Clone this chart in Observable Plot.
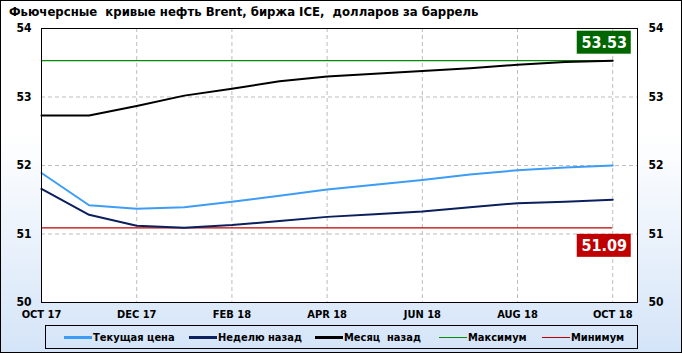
<!DOCTYPE html>
<html>
<head>
<meta charset="utf-8">
<script src="https://cdn.jsdelivr.net/npm/d3@7"></script>
<script src="https://cdn.jsdelivr.net/npm/@observablehq/plot@0.6"></script>
<style>
  html, body { margin: 0; padding: 0; }
  #wrap {
    position: relative; width: 682px; height: 353px; overflow: hidden;
    background: linear-gradient(to bottom, #ffffff 0%, #ffffff 38%, #d4e4f8 100%);
    box-shadow: inset 0 0 0 1px #000;
    font-family: "DejaVu Sans Condensed", "DejaVu Sans", sans-serif;
    font-stretch: condensed;
  }
  #title {
    position: absolute; left: 9px; top: 4px; white-space: pre;
    font-size: 13px; font-weight: bold; color: #000;
  }
  #chart { position: absolute; left: 0; top: 0; }
  #legend {
    position: absolute; left: 45px; top: 325px; width: 591px; height: 22px;
    border: 1px solid #000; box-sizing: content-box;
  }
  .item { position: absolute; top: 0; height: 22px; display: flex; align-items: center; white-space: pre;
    font-size: 11px; font-weight: bold; }
  .sw { display: inline-block; width: 28px; height: 0; margin-right: 1px; }
</style>
</head>
<body>
<div id="wrap">
  <div id="title">Фьючерсные  кривые нефть Brent, биржа ICE,  долларов за баррель</div>
  <div id="chart"></div>
  <div id="legend"></div>
</div>
<script>
const months = ["OCT 17","NOV 17","DEC 17","JAN 18","FEB 18","MAR 18","APR 18","MAY 18","JUN 18","JUL 18","AUG 18","SEP 18","OCT 18"];
const tickLabels = ["OCT 17","DEC 17","FEB 18","APR 18","JUN 18","AUG 18","OCT 18"];
const yTicks = [50, 51, 52, 53, 54];
const current  = [51.89, 51.42, 51.37, 51.39, 51.47, 51.56, 51.65, 51.72, 51.79, 51.87, 51.93, 51.97, 52.00];
const weekAgo  = [51.66, 51.28, 51.12, 51.09, 51.13, 51.19, 51.25, 51.29, 51.33, 51.39, 51.45, 51.47, 51.50];
const monthAgo = [52.73, 52.73, 52.87, 53.02, 53.12, 53.23, 53.30, 53.34, 53.38, 53.42, 53.47, 53.51, 53.53];
const maxVal = [53.53];
const minVal = [51.09];
const seriesNames = ["Текущая цена", "Неделю назад", "Месяц  назад", "Максимум", "Минимум"];
const seriesColors = ["#3d9cf5", "#0a1f5c", "#000000", "#0a8a0a", "#c00000"];

const n = months.length;
const idx = d3.range(n);
const tickIdx = tickLabels.map(l => months.indexOf(l));
const last = n - 1;

const gridStyle = {stroke: "#bdbdbd", strokeOpacity: 1, strokeDasharray: "4,3"};
const axisFont = {fontSize: 12, fontWeight: "bold", tickFormat: d => String(d)};

const chart = Plot.plot({
  width: 682, height: 330,
  marginLeft: 41, marginRight: 45, marginTop: 28, marginBottom: 28,
  x: {domain: [0, 12.52], axis: null},
  y: {domain: [50, 54], axis: null},
  style: {background: "transparent", fontFamily: "'DejaVu Sans', sans-serif", color: "#000", overflow: "visible"},
  marks: [
    Plot.frame({fill: "white"}),
    Plot.gridY(yTicks.slice(1, -1), gridStyle),
    Plot.gridX(tickIdx.slice(1), gridStyle),
    Plot.ruleY(maxVal, {x1: () => 0, x2: () => last, stroke: seriesColors[3], strokeWidth: 1.2}),
    Plot.ruleY(minVal, {x1: () => 0, x2: () => last, stroke: seriesColors[4], strokeWidth: 1.2}),
    Plot.line(idx, {x: i => i, y: i => monthAgo[i], stroke: seriesColors[2], strokeWidth: 2}),
    Plot.line(idx, {x: i => i, y: i => weekAgo[i], stroke: seriesColors[1], strokeWidth: 2}),
    Plot.line(idx, {x: i => i, y: i => current[i], stroke: seriesColors[0], strokeWidth: 2}),
    Plot.frame({stroke: "#000", strokeWidth: 1}),
    Plot.axisY(yTicks, {anchor: "left", tickSize: 0, tickPadding: 10, ...axisFont}),
    Plot.axisY(yTicks, {anchor: "right", tickSize: 0, tickPadding: 11, ...axisFont}),
    Plot.axisX(tickIdx, {anchor: "bottom", tickSize: 0, tickPadding: 8, tickFormat: i => months[i],
      fontSize: 11, fontWeight: "bold", fontStretch: "condensed", fontFamily: "'DejaVu Sans Condensed', 'DejaVu Sans', sans-serif"}),
    Plot.rect(maxVal, {x1: () => last, x2: () => last, y1: d => d, y2: d => d, fill: "#006600",
      insetLeft: -27, insetRight: -27, insetTop: -11.5, insetBottom: -11.5, dx: -8.5, dy: -18}),
    Plot.text(maxVal, {x: () => last, y: d => d, text: d => d.toFixed(2), fill: "white", dx: -8.5, dy: -18,
      fontSize: 16, fontWeight: "bold"}),
    Plot.rect(minVal, {x1: () => last, x2: () => last, y1: d => d, y2: d => d, fill: "#c00000",
      insetLeft: -27, insetRight: -27, insetTop: -11.5, insetBottom: -11.5, dx: -8.5, dy: 18}),
    Plot.text(minVal, {x: () => last, y: d => d, text: d => d.toFixed(2), fill: "white", dx: -8.5, dy: 18,
      fontSize: 16, fontWeight: "bold"})
  ]
});
document.getElementById("chart").appendChild(chart);

// legend
const legendX = [18, 143, 269, 393, 496];
const legendW = [3, 3, 3, 1, 1];
const legend = document.getElementById("legend");
seriesNames.forEach((name, i) => {
  const it = document.createElement("div");
  it.className = "item";
  it.style.left = legendX[i] + "px";
  const sw = document.createElement("span");
  sw.className = "sw";
  sw.style.borderTop = legendW[i] + "px solid " + seriesColors[i];
  it.appendChild(sw);
  it.appendChild(document.createTextNode(name));
  legend.appendChild(it);
});
</script>
</body>
</html>
